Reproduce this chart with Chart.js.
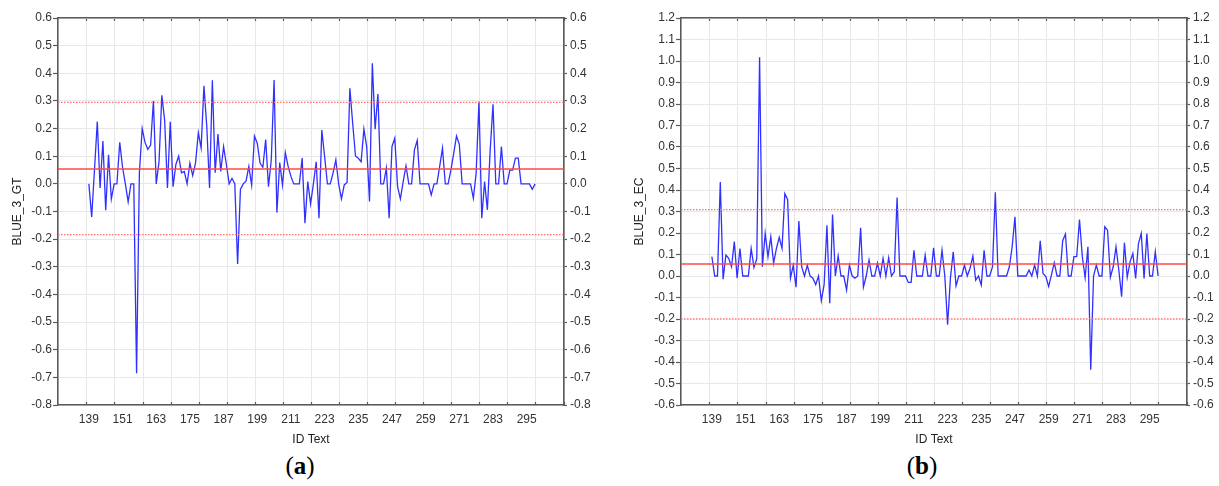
<!DOCTYPE html>
<html>
<head>
<meta charset="utf-8">
<script src="https://cdn.jsdelivr.net/npm/chart.js@4.4.1/dist/chart.umd.min.js"></script>
<style>
  html, body { margin: 0; padding: 0; background: #fff; }
  body { width: 1219px; height: 486px; position: relative; overflow: hidden; }
  canvas { position: absolute; top: 0; }
  #chartA { left: 0; }
  #chartB { left: 620px; }
  .tag { position: absolute; top: 452px; font: 25px "Liberation Serif", "DejaVu Serif", serif; color: #000; transform: translateX(-50%); }
</style>
</head>
<body>
<canvas id="chartA" width="600" height="450"></canvas>
<canvas id="chartB" width="599" height="450"></canvas>
<div class="tag" style="left:300px">(<b>a</b>)</div>
<div class="tag" style="left:922px">(<b>b</b>)</div>
<script>
// ID Text runs 139 .. 298, one value per ID
const idStart = 139;

const gtValues = [
  0.0, -0.12, 0.05, 0.225, -0.015, 0.155, -0.095, 0.105, -0.055, 0.0,
  0.0, 0.15, 0.06, 0.0, -0.065, 0.0, 0.0, -0.685, 0.04, 0.2,
  0.15, 0.125, 0.14, 0.3, 0.0, 0.08, 0.32, 0.23, -0.015, 0.225,
  -0.01, 0.07, 0.1, 0.04, 0.045, 0.0, 0.075, 0.03, 0.075, 0.185,
  0.13, 0.355, 0.21, -0.015, 0.375, 0.04, 0.18, 0.045, 0.135, 0.07,
  0.0, 0.02, 0.0, -0.29, -0.02, 0.0, 0.01, 0.063, -0.005, 0.173,
  0.147, 0.075, 0.06, 0.16, -0.01, 0.087, 0.376, -0.104, 0.077, -0.004,
  0.113, 0.063, 0.027, 0.0, 0.0, 0.0, 0.093, -0.142, 0.008, -0.072,
  0.0, 0.08, -0.124, 0.195, 0.099, 0.0, 0.0, 0.039, 0.087, 0.0,
  -0.054, -0.004, 0.005, 0.346, 0.219, 0.101, 0.093, 0.08, 0.198, 0.135,
  -0.064, 0.436, 0.198, 0.325, 0.0, 0.0, 0.057, -0.124, 0.135, 0.165,
  -0.01, -0.054, 0.008, 0.065, 0.0, 0.0, 0.123, 0.157, 0.0, 0.0,
  0.0, 0.0, -0.04, 0.0, 0.0, 0.063, 0.129, 0.0, 0.0, 0.05,
  0.11, 0.173, 0.143, 0.0, 0.0, 0.0, 0.0, -0.052, 0.039, 0.298,
  -0.124, 0.008, -0.094, 0.123, 0.288, 0.0, 0.0, 0.135, 0.0, 0.0,
  0.05, 0.05, 0.093, 0.093, 0.0, 0.0, 0.0, 0.0, -0.02, 0.0
];

const ecValues = [
  0.09, 0.0, 0.0, 0.437, -0.015, 0.097, 0.082, 0.043, 0.16, -0.01,
  0.128, 0.0, 0.0, 0.0, 0.128, 0.04, 0.08, 1.017, 0.043, 0.198,
  0.09, 0.182, 0.06, 0.128, 0.18, 0.128, 0.383, 0.355, -0.01, 0.05,
  -0.052, 0.256, 0.043, 0.0, 0.05, 0.0, -0.01, -0.04, 0.0, -0.115,
  -0.04, 0.236, -0.127, 0.286, 0.0, 0.093, 0.0, 0.0, -0.065, 0.05,
  0.0, -0.01, 0.0, 0.224, -0.052, 0.0, 0.074, 0.0, 0.0, 0.059,
  0.0, 0.082, 0.0, 0.085, 0.0, 0.02, 0.365, 0.0, 0.0, 0.0,
  -0.03, -0.03, 0.12, 0.0, 0.0, 0.0, 0.097, 0.0, 0.0, 0.131,
  0.0, 0.0, 0.12, 0.0, -0.227, -0.01, 0.113, -0.046, 0.0, 0.0,
  0.051, 0.0, 0.036, 0.093, -0.019, 0.0, -0.042, 0.12, 0.0, 0.0,
  0.043, 0.39, 0.0, 0.0, 0.0, 0.0, 0.043, 0.136, 0.275, 0.0,
  0.0, 0.0, 0.0, 0.028, 0.0, 0.051, 0.0, 0.164, 0.012, -0.003,
  -0.049, 0.005, 0.062, 0.0, 0.0, 0.164, 0.195, 0.0, 0.0, 0.09,
  0.09, 0.263, 0.09, -0.008, 0.136, -0.436, 0.0, 0.051, 0.0, 0.0,
  0.229, 0.213, -0.006, 0.043, 0.136, 0.028, -0.096, 0.155, -0.006, 0.066,
  0.105, -0.011, 0.151, 0.198, -0.011, 0.198, 0.0, 0.0, 0.113, 0.0
];

// mean and control limits (red lines)
const gtMean = 0.054, gtUpper = 0.295, gtLower = -0.184;
const ecMean = 0.056, ecUpper = 0.309, ecLower = -0.199;

const idTicks = [139, 151, 163, 175, 187, 199, 211, 223, 235, 247, 259, 271, 283, 295];
const gridTicks = [138.3, 148.3, 158.3, 168.3, 178.3, 188.3, 198.3, 208.3, 218.3,
  228.3, 238.3, 248.3, 258.3, 268.3, 278.3, 288.3, 298.3, 308.3];
const xMin = 128, xMax = 308.3;

Chart.defaults.font.family = '"Liberation Sans", Arial, sans-serif';
Chart.defaults.font.size = 12;
Chart.defaults.color = '#333';

const AXIS = '#5a5a5a';
const GRID = '#e8e8e8';
const fmt = v => (Math.abs(v) < 1e-9 ? 0 : v).toFixed(1);

function hline(v, dashed) {
  return {
    data: [{ x: xMin, y: v }, { x: xMax, y: v }],
    borderColor: dashed ? '#ff7070' : '#ff4848',
    borderWidth: dashed ? 1.2 : 1.6,
    borderDash: dashed ? [1.5, 1.5] : [],
    pointRadius: 0,
    xAxisID: 'x',
    yAxisID: 'y'
  };
}

function makePanel(canvasId, values, yMin, yMax, yTitle, mean, upper, lower, leftW, rightW, titlePad) {
  const ctx = document.getElementById(canvasId).getContext('2d');
  new Chart(ctx, {
    type: 'line',
    data: {
      datasets: [
        hline(mean, false),
        hline(upper, true),
        hline(lower, true),
        {
          data: values.map((v, i) => ({ x: idStart + i, y: v })),
          borderColor: '#3030ff',
          borderWidth: 1.3,
          pointRadius: 0,
          tension: 0,
          xAxisID: 'x',
          yAxisID: 'y'
        }
      ]
    },
    options: {
      responsive: false,
      animation: false,
      layout: { padding: { top: 18, bottom: 3, left: 0, right: 0 } },
      plugins: { legend: { display: false }, tooltip: { enabled: false } },
      scales: {
        x: {
          type: 'linear', position: 'bottom', weight: 0, min: xMin, max: xMax,
          afterBuildTicks: ax => { ax.ticks = gridTicks.map(v => ({ value: v })); },
          afterFit: ax => { ax.height = 0; },
          ticks: { display: false },
          grid: { color: GRID, tickLength: -3, tickColor: AXIS, tickWidth: 1.2 },
          border: { color: AXIS, width: 1.6 }
        },
        xTop: {
          type: 'linear', position: 'top', min: xMin, max: xMax,
          afterBuildTicks: ax => { ax.ticks = gridTicks.map(v => ({ value: v })); },
          afterFit: ax => { ax.height = 0; },
          ticks: { display: false },
          grid: { drawOnChartArea: false, tickLength: -3, tickColor: AXIS, tickWidth: 1.2 },
          border: { color: AXIS, width: 1.6 }
        },
        xLabels: {
          type: 'linear', position: 'bottom', weight: 1, min: xMin, max: xMax,
          afterBuildTicks: ax => { ax.ticks = idTicks.map(v => ({ value: v })); },
          afterFit: ax => { ax.height = 42; },
          ticks: { autoSkip: false, maxRotation: 0, padding: 7 },
          grid: { display: false, drawTicks: false },
          border: { display: false },
          title: { display: true, text: 'ID Text', color: '#222', padding: { top: 0, bottom: 0 } }
        },
        y: {
          position: 'left', min: yMin, max: yMax,
          afterFit: ax => { ax.width = leftW; },
          ticks: { stepSize: 0.1, autoSkip: false, padding: 1, callback: fmt },
          grid: { color: GRID, tickLength: 5, tickColor: AXIS, tickWidth: 1.2 },
          border: { color: AXIS, width: 1.6 },
          title: { display: true, text: yTitle, color: '#222', padding: { top: titlePad, bottom: 0 } }
        },
        y2: {
          position: 'right', min: yMin, max: yMax,
          afterFit: ax => { ax.width = rightW; },
          ticks: { stepSize: 0.1, autoSkip: false, padding: 3, callback: fmt },
          grid: { drawOnChartArea: false, tickLength: 3, tickColor: AXIS, tickWidth: 1.2 },
          border: { color: AXIS, width: 1.6 }
        }
      }
    }
  });
}

makePanel('chartA', gtValues, -0.8, 0.6, 'BLUE_3_GT', gtMean, gtUpper, gtLower, 58, 36, 10);
makePanel('chartB', ecValues, -0.6, 1.2, 'BLUE_3_EC', ecMean, ecUpper, ecLower, 61, 32, 12);
</script>
</body>
</html>
